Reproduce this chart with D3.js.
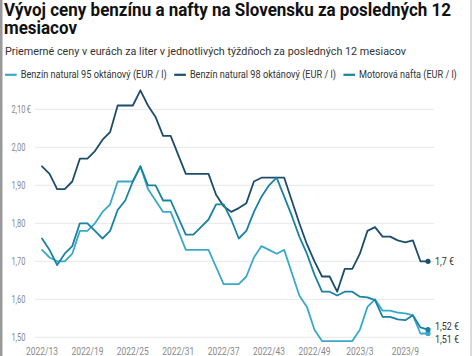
<!DOCTYPE html>
<html><head><meta charset="utf-8">
<script src="https://cdn.jsdelivr.net/npm/d3@7"></script>
<style>
body{margin:0;background:#fff;}
svg{display:block;font-family:Roboto,"Noto Sans",sans-serif;}
</style></head><body>
<svg id="c" width="474" height="356"></svg>
<script>
const weeks=["2022/13","2022/14","2022/15","2022/16","2022/17","2022/18","2022/19","2022/20","2022/21","2022/22",
"2022/23","2022/24","2022/25","2022/26","2022/27","2022/28","2022/29","2022/30","2022/31","2022/32",
"2022/33","2022/34","2022/35","2022/36","2022/37","2022/38","2022/39","2022/40","2022/41","2022/42",
"2022/43","2022/44","2022/45","2022/46","2022/47","2022/48","2022/49","2022/50","2022/51","2022/52",
"2023/1","2023/2","2023/3","2023/4","2023/5","2023/6","2023/7","2023/8","2023/9","2023/10","2023/11","2023/12"];
const benzin95=[1.73,1.71,1.70,1.70,1.72,1.78,1.78,1.80,1.83,1.85,
1.91,1.91,1.91,1.95,1.89,1.86,1.83,1.83,1.78,1.73,
1.73,1.73,1.73,1.685,1.64,1.64,1.64,1.66,1.71,1.74,
1.73,1.72,1.73,1.67,1.61,1.58,1.52,1.49,1.49,1.49,
1.49,1.49,1.52,1.58,1.60,1.57,1.57,1.565,1.563,1.558,1.51,1.51];
const benzin98=[1.95,1.93,1.89,1.89,1.91,1.97,1.97,1.99,2.02,2.04,
2.11,2.11,2.11,2.15,2.11,2.08,2.03,2.03,1.98,1.93,
1.93,1.93,1.93,1.875,1.845,1.83,1.84,1.853,1.91,1.92,
1.92,1.92,1.92,1.86,1.80,1.745,1.70,1.66,1.66,1.62,
1.68,1.68,1.72,1.78,1.79,1.765,1.765,1.755,1.75,1.755,1.70,1.70];
const nafta=[1.76,1.73,1.69,1.72,1.74,1.80,1.80,1.78,1.76,1.78,
1.835,1.86,1.91,1.95,1.90,1.90,1.86,1.86,1.815,1.77,
1.77,1.79,1.81,1.85,1.85,1.81,1.76,1.78,1.83,1.87,
1.90,1.92,1.87,1.82,1.765,1.72,1.665,1.62,1.62,1.61,
1.62,1.62,1.607,1.605,1.598,1.554,1.554,1.547,1.545,1.558,1.526,1.52];
const seriesNames=["Benzín natural 95 oktánový (EUR / l)","Benzín natural 98 oktánový (EUR / l)","Motorová nafta (EUR / l)"];
const seriesColors=["#3aa9c9","#1d4d6c","#1a82a2"];
const endLabels=["1,51 €","1,7 €","1,52 €"];
const yTicks=[1.5,1.6,1.7,1.8,1.9,2.0,2.1];
const xTickLabels=["2022/13","2022/19","2022/25","2022/31","2022/37","2022/43","2022/49","2023/3","2023/9"];
const titleLines=["Vývoj ceny benzínu a nafty na Slovensku za posledných 12","mesiacov"];
const subtitle="Priemerné ceny v eurách za liter v jednotlivých týždňoch za posledných 12 mesiacov";

const svg=d3.select("#c");
const series=[benzin95,benzin98,nafta];

function fit(sel,w){sel.attr("textLength",w).attr("lengthAdjust","spacingAndGlyphs");}
function condense(sel,k){sel.each(function(){const t=d3.select(this);const w=this.getComputedTextLength();t.attr("textLength",w*k).attr("lengthAdjust","spacingAndGlyphs");});}

// frame
svg.append("rect").attr("x",0).attr("y",0).attr("width",2.5).attr("height",356).attr("fill","#9a9a9a");
svg.append("line").attr("x1",471).attr("x2",471).attr("y1",0).attr("y2",356).attr("stroke","#b5b5b5").attr("stroke-width",1);

// titles
const tw=[447,73];
titleLines.forEach((t,i)=>{
  svg.append("text").attr("x",4).attr("y",15.5+i*18).attr("font-size",18).attr("font-weight",700)
    .attr("fill","#111").text(t).call(fit,tw[i]);
});
svg.append("text").attr("x",5).attr("y",55).attr("font-size",10.5).attr("fill","#333").text(subtitle).call(fit,401);

// legend
const legW=[146,146,97.7];
let lx=5;
seriesNames.forEach((n,i)=>{
  svg.append("line").attr("x1",lx).attr("x2",lx+11.7).attr("y1",74.8).attr("y2",74.8)
    .attr("stroke",seriesColors[i]).attr("stroke-width",2.2);
  svg.append("text").attr("x",lx+15.7).attr("y",78.3).attr("font-size",10.3).attr("fill","#333").text(n).call(fit,legW[i]);
  lx=lx+15.7+legW[i]+7.5;
});

const x=d3.scalePoint().domain(weeks).range([42,428]);
const y=d3.scaleLinear().domain([1.5,2.1]).range([337.3,109.3]);

// grid
svg.append("g").selectAll("line").data(yTicks).join("line")
  .attr("x1",35).attr("x2",434).attr("y1",d=>y(d)).attr("y2",d=>y(d))
  .attr("stroke","#e8e8e8").attr("stroke-width",1);

const fmt=d=>d3.format(".2f")(d).replace(".",",");
const yl=svg.append("g").selectAll("text").data(yTicks).join("text")
  .attr("x",25.5).attr("y",d=>y(d)).attr("dy","0.35em").attr("text-anchor","end")
  .attr("font-size",10).attr("fill","#8a8a8a").text(d=>fmt(d));
condense(yl,0.75);
svg.append("text").attr("x",26.5).attr("y",y(2.1)).attr("dy","0.35em").attr("font-size",10).attr("fill","#8a8a8a").text("€").call(condense,0.8);

// x labels
const xl=svg.append("g").selectAll("text").data(xTickLabels).join("text")
  .attr("x",d=>x(d)).attr("y",355).attr("text-anchor","middle").attr("font-size",10.3).attr("fill","#8a8a8a").text(d=>d);
condense(xl,0.82);

// lines
const line=d3.line().x((d,i)=>x(weeks[i])).y(d=>y(d)).curve(d3.curveLinear);
series.forEach((s,i)=>{
  svg.append("path").attr("d",line(s)).attr("fill","none").attr("stroke",seriesColors[i])
    .attr("stroke-width",1.8).attr("stroke-linejoin","round").attr("stroke-linecap","round");
});
// end dots
const last=weeks[weeks.length-1];
series.forEach((s,i)=>{
  svg.append("circle").attr("cx",x(last)).attr("cy",y(s[s.length-1])).attr("r",2.6).attr("fill",seriesColors[i]);
});
// end labels with collision avoidance
const lab=series.map((s,i)=>({i,y:y(s[s.length-1])})).sort((a,b)=>a.y-b.y);
const gap=13.7;
for(let k=0;k<5;k++){
  for(let j=1;j<lab.length;j++){
    const d=lab[j].y-lab[j-1].y;
    if(d<gap){const m=(lab[j].y+lab[j-1].y)/2+1.2;lab[j-1].y=m-gap/2;lab[j].y=m+gap/2;}
  }
}
lab.forEach(l=>{
  svg.append("text").attr("x",435).attr("y",l.y).attr("dy","0.35em").attr("font-size",10.5).attr("fill","#333")
    .text(endLabels[l.i]).call(condense,0.85);
});
</script>
</body></html>
